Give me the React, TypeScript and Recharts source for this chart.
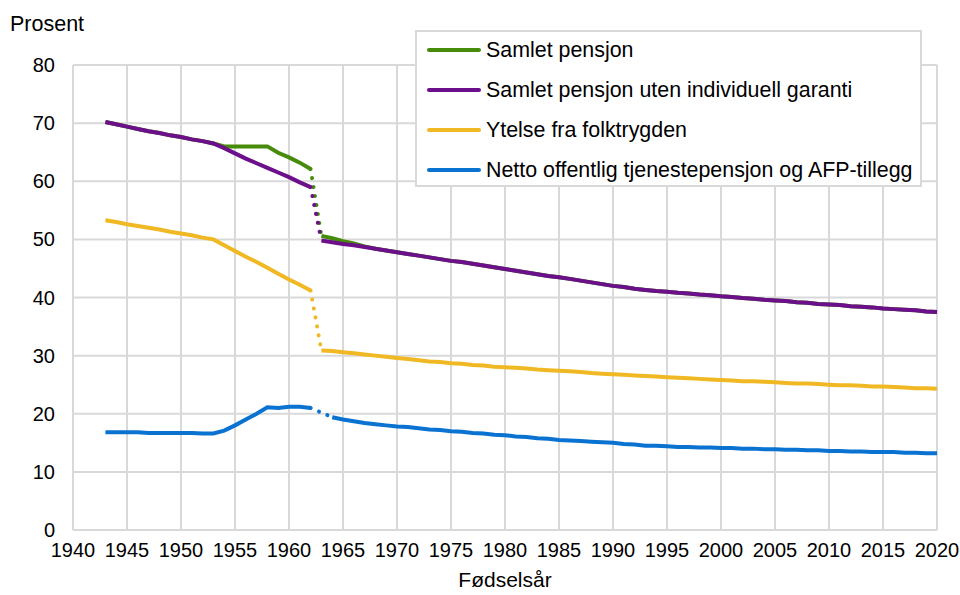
import { LineChart, Line, XAxis, YAxis, CartesianGrid } from 'recharts';

// Fødselsår 1943-1962 (før reformen) og 1963-2020 (etter)
const earlyYears = [
    1943, 1944, 1945, 1946, 1947, 1948, 1949, 1950, 1951, 1952,
    1953, 1954, 1955, 1956, 1957, 1958, 1959, 1960, 1961, 1962,
];
const lateYears = [
    1963, 1964, 1965, 1966, 1967, 1968, 1969, 1970, 1971, 1972,
    1973, 1974, 1975, 1976, 1977, 1978, 1979, 1980, 1981, 1982,
    1983, 1984, 1985, 1986, 1987, 1988, 1989, 1990, 1991, 1992,
    1993, 1994, 1995, 1996, 1997, 1998, 1999, 2000, 2001, 2002,
    2003, 2004, 2005, 2006, 2007, 2008, 2009, 2010, 2011, 2012,
    2013, 2014, 2015, 2016, 2017, 2018, 2019, 2020,
];

const samletEarly = [
    70.2, 69.8, 69.4, 69.0, 68.6, 68.3, 67.9, 67.6, 67.2, 66.9,
    66.5, 66.0, 66.0, 66.0, 66.0, 66.0, 64.9, 64.1, 63.2, 62.1,
];
const samletLate = [
    50.6, 50.2, 49.7, 49.3, 48.8, 48.4, 48.1, 47.8, 47.5, 47.2,
    46.9, 46.6, 46.3, 46.1, 45.8, 45.5, 45.2, 44.9, 44.6, 44.3,
    44.0, 43.7, 43.5, 43.2, 42.9, 42.6, 42.3, 42.0, 41.8, 41.5,
    41.3, 41.1, 41.0, 40.8, 40.7, 40.5, 40.4, 40.2, 40.1, 39.9,
    39.8, 39.6, 39.5, 39.4, 39.2, 39.1, 38.9, 38.8, 38.7, 38.5,
    38.4, 38.3, 38.1, 38.0, 37.9, 37.8, 37.6, 37.5,
];

const utenGarantiEarly = [
    70.2, 69.8, 69.4, 69.0, 68.6, 68.3, 67.9, 67.6, 67.2, 66.9,
    66.5, 65.7, 64.8, 63.9, 63.1, 62.3, 61.5, 60.7, 59.8, 59.0,
];
const utenGarantiLate = [
    49.8, 49.5, 49.2, 49.0, 48.7, 48.4, 48.1, 47.8, 47.5, 47.2,
    46.9, 46.6, 46.3, 46.1, 45.8, 45.5, 45.2, 44.9, 44.6, 44.3,
    44.0, 43.7, 43.5, 43.2, 42.9, 42.6, 42.3, 42.0, 41.8, 41.5,
    41.3, 41.1, 41.0, 40.8, 40.7, 40.5, 40.4, 40.2, 40.1, 39.9,
    39.8, 39.6, 39.5, 39.4, 39.2, 39.1, 38.9, 38.8, 38.7, 38.5,
    38.4, 38.3, 38.1, 38.0, 37.9, 37.8, 37.6, 37.5,
];

const folketrygdEarly = [
    53.3, 53.0, 52.6, 52.3, 52.0, 51.7, 51.3, 51.0, 50.7, 50.3,
    50.0, 49.0, 48.0, 47.0, 46.1, 45.1, 44.1, 43.1, 42.2, 41.2,
];
const folketrygdLate = [
    30.9, 30.8, 30.6, 30.4, 30.2, 30.0, 29.8, 29.6, 29.4, 29.2,
    29.0, 28.9, 28.7, 28.6, 28.4, 28.3, 28.1, 28.0, 27.9, 27.8,
    27.6, 27.5, 27.4, 27.3, 27.2, 27.0, 26.9, 26.8, 26.7, 26.6,
    26.5, 26.4, 26.3, 26.2, 26.1, 26.0, 25.9, 25.8, 25.7, 25.6,
    25.6, 25.5, 25.4, 25.3, 25.2, 25.2, 25.1, 25.0, 24.9, 24.9,
    24.8, 24.7, 24.7, 24.6, 24.5, 24.4, 24.4, 24.3,
];

const tjenestepensjonEarly = [
    16.8, 16.8, 16.8, 16.8, 16.7, 16.7, 16.7, 16.7, 16.7, 16.6,
    16.6, 17.1, 18.0, 19.0, 20.0, 21.1, 21.0, 21.2, 21.2, 21.0,
];
// 1963 mangler, linja starter i 1964
const tjenestepensjonLate = [
    null, 19.4, 19.0, 18.7, 18.4, 18.2, 18.0, 17.8, 17.7, 17.5,
    17.3, 17.2, 17.0, 16.9, 16.7, 16.6, 16.4, 16.3, 16.1, 16.0,
    15.8, 15.7, 15.5, 15.4, 15.3, 15.2, 15.1, 15.0, 14.8, 14.7,
    14.5, 14.5, 14.4, 14.3, 14.3, 14.2, 14.2, 14.1, 14.1, 14.0,
    14.0, 13.9, 13.9, 13.8, 13.8, 13.7, 13.7, 13.6, 13.6, 13.5,
    13.5, 13.4, 13.4, 13.4, 13.3, 13.3, 13.2, 13.2,
];

const xTicks = [1940, 1945, 1950, 1955, 1960, 1965, 1970, 1975, 1980, 1985, 1990, 1995, 2000, 2005, 2010, 2015, 2020];
const yTicks = [0, 10, 20, 30, 40, 50, 60, 70, 80];

const SERIES = [
    { key: 'samlet', name: 'Samlet pensjon', color: '#468c0a', early: samletEarly, late: samletLate },
    { key: 'uten', name: 'Samlet pensjon uten individuell garanti', color: '#6c0f8a', early: utenGarantiEarly, late: utenGarantiLate },
    { key: 'ftrygd', name: 'Ytelse fra folktrygden', color: '#f0b823', early: folketrygdEarly, late: folketrygdLate },
    { key: 'tjp', name: 'Netto offentlig tjenestepensjon og AFP-tillegg', color: '#0a72d0', early: tjenestepensjonEarly, late: tjenestepensjonLate },
];

const FONT = '"Liberation Sans", Arial, sans-serif';

function buildRows() {
    const rows: Record<string, number | null>[] = [];
    earlyYears.forEach((year, i) => {
        const row: Record<string, number | null> = { year };
        SERIES.forEach((s) => {
            row[s.key + 'A'] = s.early[i];
            row[s.key + 'B'] = null;
            row[s.key + 'Dot'] = i === earlyYears.length - 1 ? s.early[i] : null;
        });
        rows.push(row);
    });
    lateYears.forEach((year, i) => {
        const row: Record<string, number | null> = { year };
        SERIES.forEach((s) => {
            const v = s.late[i];
            // første verdi etter bruddet kobles med prikket linje
            const firstIdx = s.late.findIndex((x) => x !== null);
            row[s.key + 'A'] = null;
            row[s.key + 'B'] = v;
            row[s.key + 'Dot'] = i === firstIdx ? v : null;
        });
        rows.push(row);
    });
    return rows;
}

const rows = buildRows();

const tickStyle = { fill: '#000', fontSize: 20, fontFamily: FONT };

export default function App() {
    return (
        <div style={{ position: 'absolute', left: 0, top: 0, width: 960, height: 595, background: '#fff', fontFamily: FONT }}>
            <div style={{ position: 'absolute', left: 10, top: 12, fontSize: 21.5, color: '#000' }}>Prosent</div>
            <LineChart width={960} height={595} data={rows} margin={{ top: 65, right: 23, left: 0, bottom: 5 }}>
                <CartesianGrid stroke="#d9d9d9" strokeWidth={2} />
                <XAxis
                    dataKey="year"
                    type="number"
                    domain={[1940, 2020]}
                    ticks={xTicks}
                    interval={0}
                    axisLine={false}
                    tickLine={false}
                    tickSize={6}
                    tickMargin={7}
                    height={60}
                    tick={tickStyle}
                    label={{ value: 'Fødselsår', position: 'insideBottom', offset: 3, fill: '#000', fontSize: 21, fontFamily: FONT }}
                />
                <YAxis
                    type="number"
                    domain={[0, 80]}
                    ticks={yTicks}
                    interval={0}
                    axisLine={false}
                    tickLine={false}
                    tickSize={6}
                    tickMargin={12}
                    width={73}
                    tick={tickStyle}
                />
                {SERIES.map((s) => [
                    <Line
                        key={s.key + 'A'}
                        dataKey={s.key + 'A'}
                        stroke={s.color}
                        strokeWidth={4}
                        dot={false}
                        activeDot={false}
                        isAnimationActive={false}
                    />,
                    <Line
                        key={s.key + 'B'}
                        dataKey={s.key + 'B'}
                        stroke={s.color}
                        strokeWidth={4}
                        dot={false}
                        activeDot={false}
                        isAnimationActive={false}
                    />,
                    <Line
                        key={s.key + 'Dot'}
                        dataKey={s.key + 'Dot'}
                        stroke={s.color}
                        strokeWidth={4}
                        strokeDasharray="0.1 9"
                        strokeLinecap="round"
                        connectNulls
                        dot={false}
                        activeDot={false}
                        isAnimationActive={false}
                    />,
                ])}
            </LineChart>
            <div
                style={{
                    position: 'absolute',
                    left: 415,
                    top: 30,
                    width: 503,
                    height: 153,
                    border: '2px solid #d9d9d9',
                    background: '#fff',
                    boxSizing: 'content-box',
                }}
            >
                {SERIES.map((s, i) => (
                    <div
                        key={s.key}
                        style={{ position: 'absolute', left: 10, top: 4 + i * 40, height: 28, display: 'flex', alignItems: 'center' }}
                    >
                        <span style={{ display: 'inline-block', width: 54, height: 4, borderRadius: 2, background: s.color, marginRight: 5 }} />
                        <span style={{ fontSize: 21.4, color: '#000', whiteSpace: 'nowrap' }}>{s.name}</span>
                    </div>
                ))}
            </div>
        </div>
    );
}
